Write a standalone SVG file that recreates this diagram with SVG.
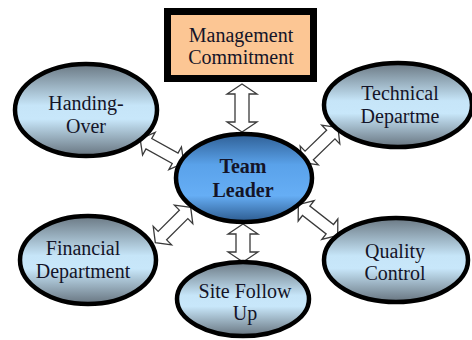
<svg xmlns="http://www.w3.org/2000/svg" width="472" height="340" viewBox="0 0 472 340">
<defs>
<linearGradient id="gOuter" x1="0" y1="0" x2="0" y2="1">
<stop offset="0" stop-color="#6a7883"/>
<stop offset="0.45" stop-color="#c6e5f8"/>
<stop offset="0.6" stop-color="#c8e7fa"/>
<stop offset="1" stop-color="#67747f"/>
</linearGradient>
<linearGradient id="gLead" x1="0" y1="0" x2="0" y2="1">
<stop offset="0" stop-color="#2f5f95"/>
<stop offset="0.35" stop-color="#5aa2ea"/>
<stop offset="0.7" stop-color="#66aef5"/>
<stop offset="1" stop-color="#2c5a8e"/>
</linearGradient>
<path id="arr" d="M-25,0 L-15,-13 L-15,-6 L15,-6 L15,-13 L25,0 L15,13 L15,6 L-15,6 L-15,13 Z"/>
</defs>
<style>
.n{stroke:#000;stroke-width:4.5;fill:url(#gOuter)}
text{font-family:"Liberation Serif","DejaVu Serif","Times New Roman",serif;font-size:20px;fill:#141428;text-anchor:middle}
.b{font-weight:bold}
.a{fill:#fff;stroke:#3a3a3a;stroke-width:1.3;stroke-linejoin:miter}
</style>
<g id="connectors">
<path class="a" d="M-24,0 L-14,-15 L-14,-7 L14,-7 L14,-15 L24,0 L14,15 L14,7 L-14,7 L-14,15 Z" transform="translate(242,108) rotate(90)"/>
<path class="a" d="M-19,0 L-9,-15 L-9,-7 L9,-7 L9,-15 L19,0 L9,15 L9,7 L-9,7 L-9,15 Z" transform="translate(243,243) rotate(90)"/>
<use href="#arr" class="a" transform="translate(162,151) rotate(29)"/>
<use href="#arr" class="a" transform="translate(320,145) rotate(-44)"/>
<use href="#arr" class="a" transform="translate(173,225) rotate(-45)"/>
<use href="#arr" class="a" transform="translate(318,220) rotate(38)"/>
</g>
<g id="management">
<rect x="167.5" y="11.5" width="146" height="67" fill="#fcc694" stroke="#000" stroke-width="7"/>
<text font-family="Liberation Serif, serif" x="241" y="42">Management</text>
<text font-family="Liberation Serif, serif" x="241" y="64">Commitment</text>
</g>
<g id="handing-over">
<ellipse class="n" cx="86" cy="110" rx="71" ry="46"/>
<text font-family="Liberation Serif, serif" x="86" y="110">Handing-</text>
<text font-family="Liberation Serif, serif" x="86" y="133">Over</text>
</g>
<g id="technical">
<ellipse class="n" cx="398" cy="105" rx="74" ry="42"/>
<text font-family="Liberation Serif, serif" x="400" y="100">Technical</text>
<text font-family="Liberation Serif, serif" x="400" y="123">Departme</text>
</g>
<g id="team-leader">
<ellipse class="n" cx="244" cy="178" rx="68" ry="44" style="fill:url(#gLead)"/>
<text class="b" font-family="Liberation Serif, serif" x="243" y="173">Team</text>
<text class="b" font-family="Liberation Serif, serif" x="243" y="197">Leader</text>
</g>
<g id="financial">
<ellipse class="n" cx="88" cy="260" rx="68" ry="44"/>
<text font-family="Liberation Serif, serif" x="83" y="255">Financial</text>
<text font-family="Liberation Serif, serif" x="83" y="278">Department</text>
</g>
<g id="site-follow-up">
<ellipse class="n" cx="243" cy="299" rx="66" ry="37"/>
<text font-family="Liberation Serif, serif" x="245" y="298">Site Follow</text>
<text font-family="Liberation Serif, serif" x="245" y="320">Up</text>
</g>
<g id="quality-control">
<ellipse class="n" cx="396" cy="260" rx="72" ry="42"/>
<text font-family="Liberation Serif, serif" x="395" y="258">Quality</text>
<text font-family="Liberation Serif, serif" x="395" y="280">Control</text>
</g>
</svg>
